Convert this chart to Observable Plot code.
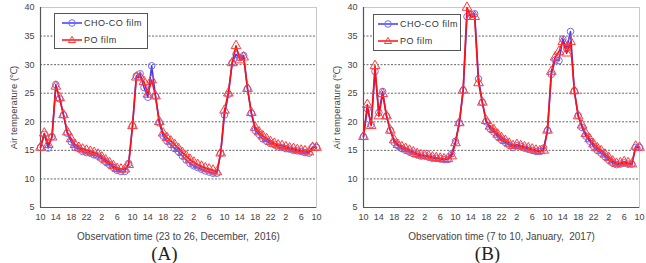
<!DOCTYPE html>
<html><head><meta charset="utf-8">
<script src="https://cdn.jsdelivr.net/npm/d3@7"></script>
<script src="https://cdn.jsdelivr.net/npm/@observablehq/plot@0.6"></script>
<style>
body{margin:0;background:#fff;}
#wrap{display:flex;width:646px;height:263px;overflow:hidden;}
.panel{position:relative;width:323px;height:263px;}
.cap{font-family:"Liberation Serif",serif;font-size:19px;line-height:18px;height:18px;text-align:center;padding-left:6px;color:#222;}
.legend{position:absolute;border:1px solid #555;background:#fff;font-family:"Liberation Sans",Arial,sans-serif;font-size:9px;color:#333;letter-spacing:0.45px;white-space:nowrap;}
.legend .row{position:absolute;display:flex;align-items:center;}
.legend svg{margin-right:2px;}
g[aria-label="x-axis label"] text{font-size:10px;}
g[aria-label="y-axis label"] text{font-size:9.5px;}
</style>
</head><body>
<div id="wrap"></div>
<script>
// hour index 0..72 starting at 10:00
const hours = d3.range(0, 73);
const tickHours = d3.range(0, 73, 4);
const yTicks = [5, 10, 15, 20, 25, 30, 35, 40];
const gridLines = [10, 15, 20, 25, 30, 35];
const seriesNames = ["CHO-CO film", "PO film"];
const panelLabels = ["(A)", "(B)"];
const xTitles = ["Observation time (23 to 26, December,  2016)", "Observation time (7 to 10, January,  2017)"];

const choA = [15.5,17.8,15.4,17.4,26.5,24.0,21.2,18.0,16.5,15.5,15.3,14.8,14.6,14.5,14.2,14.0,13.5,13.0,12.5,12.0,11.5,11.3,11.3,12.7,
  19.3,28.0,28.4,26.0,24.3,29.8,24.5,19.8,17.5,16.6,16.0,15.3,14.8,14.0,13.3,12.7,12.3,12.0,11.7,11.4,11.2,11.0,11.0,14.5,
  21.2,24.8,30.3,31.8,31.2,31.6,25.8,21.5,18.5,17.8,17.0,16.6,16.2,16.0,15.6,15.5,15.3,15.2,15.0,14.9,14.8,14.6,14.5,15.6,15.5];
const poA = [15.5,18.0,16.0,17.3,26.2,24.2,21.2,18.2,17.0,16.0,15.5,15.2,15.0,14.8,14.6,14.3,13.8,13.3,12.8,12.3,11.8,11.7,11.7,12.5,
  19.3,27.8,27.8,27.0,24.8,27.3,24.5,20.0,18.0,17.2,16.6,16.0,15.3,14.6,14.0,13.4,12.9,12.5,12.2,11.9,11.7,11.5,11.2,14.5,
  22.0,25.0,30.3,33.3,30.8,31.3,25.8,21.6,19.0,18.2,17.5,17.0,16.5,16.2,15.9,15.8,15.6,15.4,15.3,15.1,15.0,14.9,14.7,15.5,15.5];
const choB = [17.4,22.3,19.5,28.8,21.6,25.3,21.0,18.5,16.4,15.8,15.3,15.0,14.7,14.4,14.2,14.0,14.0,13.8,13.6,13.6,13.5,13.4,13.4,14.4,
  16.6,19.8,25.5,38.4,38.8,38.9,27.5,23.4,20.0,18.8,18.2,17.4,16.8,16.4,15.9,15.5,15.8,15.7,15.4,15.2,15.0,14.8,14.8,15.4,
  18.5,28.3,30.8,30.7,34.5,32.8,35.8,25.4,21.1,19.0,17.5,16.6,15.7,15.0,14.5,13.9,13.3,12.8,12.5,12.6,12.8,12.6,12.6,15.5,15.5];
const poB = [17.4,23.0,19.3,29.8,21.0,24.9,21.0,18.5,16.8,16.0,15.6,15.3,15.0,14.7,14.4,14.2,14.1,14.0,13.8,13.7,13.6,13.5,13.5,14.0,
  16.3,19.8,25.5,40.0,38.4,38.4,26.8,23.4,20.2,19.2,18.6,17.8,17.2,16.7,16.2,15.8,16.0,15.8,15.6,15.4,15.2,15.0,14.9,15.0,
  18.5,28.8,31.3,32.3,34.0,32.0,34.0,25.4,21.0,19.4,17.9,17.0,16.1,15.4,14.9,14.3,13.7,13.1,12.7,12.8,13.0,12.8,12.6,15.7,15.5];

const blueLine = "#3b3bff", blueDot = "#6b6bff", redLine = "#ff1010", redDot = "#ff3a3a";

function legendHTML(left, top, w, h, pad) {
  return `<div class="legend" style="left:${left}px;top:${top}px;width:${w}px;height:${h}px;">
    <div class="row" style="top:3px;left:${pad}px"><svg width="20" height="12"><line x1="0" y1="6" x2="20" y2="6" stroke="${blueLine}" stroke-width="1.5"/><circle cx="10" cy="6" r="3.3" fill="none" stroke="${blueDot}"/></svg>${seriesNames[0]}</div>
    <div class="row" style="top:20px;left:${pad}px"><svg width="20" height="12"><line x1="0" y1="6" x2="20" y2="6" stroke="${redLine}" stroke-width="1.5"/><path d="M10,2.3L13.5,8.5H6.5Z" fill="none" stroke="${redDot}"/></svg>${seriesNames[1]}</div>
  </div>`;
}

function makePanel(cho, po, idx, legPos) {
  const data1 = hours.map(h => ({t: h, v: cho[h]}));
  const data2 = hours.map(h => ({t: h, v: po[h]}));
  const plot = Plot.plot({
    width: 323, height: 245,
    marginLeft: 40, marginRight: 7, marginTop: 7, marginBottom: 38,
    style: {fontFamily: '"Liberation Sans",Arial,sans-serif', fontSize: "9px", color: "#444", background: "#fff"},
    x: {domain: [0, 72]},
    y: {domain: [5, 40]},
    marks: [
      Plot.frame({stroke: "#c8c8c8"}),
      Plot.ruleY(gridLines, {stroke: "#555", strokeDasharray: "2,1.5", strokeWidth: 0.9}),
      Plot.axisX({ticks: tickHours, tickFormat: h => String((10 + h) % 24), tickSize: 0, tickPadding: 6, fontSize: 9, label: xTitles[idx], labelAnchor: "center", labelOffset: 32, labelArrow: "none"}),
      Plot.axisY({ticks: yTicks, tickSize: 0, tickPadding: 6, fontSize: 9, label: "Air temperature (℃)", labelAnchor: "center", labelOffset: 30, labelArrow: "none"}),
      Plot.ruleX([0], {stroke: "#555", strokeWidth: 1.2}),
      Plot.ruleY([5], {stroke: "#555", strokeWidth: 1.2}),
      Plot.line(data1, {x: "t", y: "v", stroke: blueLine, strokeWidth: 1.6}),
      Plot.dot(data1, {x: "t", y: "v", r: 3.3, stroke: blueDot, strokeWidth: 1, fill: "none"}),
      Plot.line(data2, {x: "t", y: "v", stroke: redLine, strokeWidth: 1.6}),
      Plot.dot(data2, {x: "t", y: "v", r: 3.6, symbol: "triangle", stroke: redDot, strokeWidth: 1, fill: "none"})
    ]
  });
  const div = document.createElement("div");
  div.className = "panel";
  div.appendChild(plot);
  div.insertAdjacentHTML("beforeend", legendHTML(...legPos));
  const cap = document.createElement("div");
  cap.className = "cap";
  cap.textContent = panelLabels[idx];
  div.appendChild(cap);
  document.getElementById("wrap").appendChild(div);
}
makePanel(choA, poA, 0, [54, 13, 92, 34, 7]);
makePanel(choB, poB, 1, [50, 14, 86, 35, 4]);
</script>
</body></html>
